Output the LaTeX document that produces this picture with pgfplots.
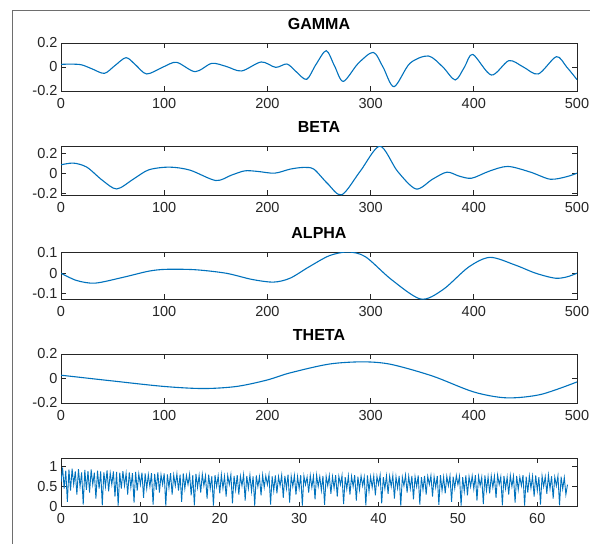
\documentclass[border=0pt]{standalone}
\usepackage{pgfplots}
\pgfplotsset{compat=1.18}
\usepackage{fontspec}
\setmainfont{Liberation Sans}
\definecolor{mblue}{RGB}{0,114,189}
\definecolor{axgray}{RGB}{38,38,38}
\definecolor{framegray}{RGB}{110,110,110}
\pgfplotsset{
  mystyle/.style={
    scale only axis, width=516pt,
    axis line style={draw=axgray, line width=0.8pt},
    tick style={draw=axgray, line width=0.8pt},
    tick align=inside, major tick length=5pt,
    ticklabel style={font=\fontsize{14.5}{14.5}\selectfont, text=axgray},
    xticklabel style={yshift=-3.5pt},
    title style={at={(0.5,1)}, anchor=base, yshift=8pt, font=\bfseries\fontsize{16}{16}\selectfont, text=black},
    xmin=0, xmax=500, xtick={0,100,200,300,400,500},
    xticklabels={0,100,200,300,400,500},
    every axis plot/.append style={line width=1.1pt, color=mblue},
  }
}
\begin{document}
\begin{tikzpicture}
\useasboundingbox (0,0) rectangle (590pt,-544pt);
\fill[white] (0,0) rectangle (590pt,-544pt);
\draw[framegray, line width=1.6pt] (12.5pt,-560pt) -- (12.5pt,-10.5pt) -- (600pt,-10.5pt);

% GAMMA
\begin{axis}[mystyle, at={(61pt,-43pt)}, anchor=north west, height=48pt,
  title={GAMMA}, ymin=-0.2, ymax=0.2, ytick={-0.2,0,0.2}, yticklabels={-0.2,0,0.2}]
\addplot[smooth] coordinates {(0,0.022)(10,0.024)(20,0.018)(30,-0.015)(42,-0.053)(52,0.01)(63,0.078)(72,0.02)(83,-0.058)(99,0.0)(112,0.039)(130,-0.039)(146,0.03)(160,0.005)(175,-0.033)(194,0.042)(208,-0.003)(219,0.025)(228,-0.04)(238,-0.103)(247,0.02)(257,0.136)(265,0.01)(273.5,-0.12)(288,0.03)(302.6,0.122)(312,0.0)(322.7,-0.164)(338,0.03)(356,0.092)(370,0.0)(382,-0.108)(391,0.0)(399,0.105)(417,-0.067)(434,0.053)(448,0.0)(462.5,-0.058)(480,0.086)(490,0.0)(500,-0.105)};
\end{axis}

% BETA
\begin{axis}[mystyle, at={(61pt,-146pt)}, anchor=north west, height=49pt,
  title={BETA}, ymin=-0.217, ymax=0.27, ytick={-0.2,0,0.2}, yticklabels={-0.2,0,0.2}]
\addplot[smooth] coordinates {(0,0.083)(12,0.1)(25,0.06)(40,-0.07)(54,-0.157)(70,-0.06)(85,0.033)(105,0.06)(125,0.03)(150,-0.073)(165,-0.02)(178,0.023)(190,0.018)(207,0.0)(222,0.04)(235,0.057)(245,0.04)(258,-0.1)(272,-0.215)(290,0.02)(309,0.268)(326,0.02)(344,-0.157)(360,-0.06)(374,0.01)(386,-0.03)(398,-0.05)(415,0.02)(433,0.067)(455,0.01)(474,-0.06)(490,-0.035)(500,0.0)};
\end{axis}

% ALPHA
\begin{axis}[mystyle, at={(61pt,-252pt)}, anchor=north west, height=47pt,
  title={ALPHA}, ymin=-0.125, ymax=0.103, ytick={-0.1,0,0.1}, yticklabels={-0.1,0,0.1}]
\addplot[smooth] coordinates {(0,0)(15,-0.035)(33,-0.048)(60,-0.02)(85,0.01)(102,0.019)(130,0.017)(160,0.0)(185,-0.03)(206,-0.043)(222,-0.024)(240,0.03)(260,0.085)(278,0.103)(295,0.08)(320,-0.03)(348.5,-0.125)(370,-0.08)(395,0.03)(415.7,0.077)(440,0.04)(460,0.0)(478.7,-0.024)(490,-0.018)(500,0.0)};
\end{axis}

% THETA
\begin{axis}[mystyle, at={(61pt,-354pt)}, anchor=north west, height=49pt,
  title={THETA}, ymin=-0.2, ymax=0.2, ytick={-0.2,0,0.2}, yticklabels={-0.2,0,0.2}]
\addplot[smooth] coordinates {(0,0.027)(50,-0.02)(100,-0.065)(138,-0.082)(170,-0.065)(199,-0.014)(222,0.046)(260,0.118)(293,0.136)(320,0.115)(360,0.02)(400,-0.11)(432,-0.158)(465,-0.13)(500,-0.028)};
\end{axis}

% signal
\begin{axis}[mystyle, at={(61pt,-458pt)}, anchor=north west, height=48.5pt,
  xmin=0, xmax=65, xtick={0,10,20,30,40,50,60}, xticklabels={0,10,20,30,40,50,60},
  ymin=0, ymax=1.22, ytick={0,0.5,1}, yticklabels={0,0.5,1}]
\addplot[line width=0.9pt] coordinates {
(0,0.62)(0.2,0.98)(0.4,0.45)(0.6,0.90)(0.8,0.12)
(1,0.93)(1.2,0.40)(1.4,0.95)(1.6,0.55)(1.8,0.88)
(2,0.30)(2.2,0.94)(2.4,0.50)(2.6,0.86)(2.8,0.05)
(3,0.92)(3.2,0.42)(3.4,0.89)(3.6,0.35)(3.8,0.93)
(4,0.55)(4.2,0.85)(4.4,0.20)(4.6,0.90)(4.8,0.45)
(5,0.88)(5.2,0.03)(5.4,0.86)(5.6,0.50)(5.8,0.91)
(6,0.38)(6.2,0.84)(6.4,0.55)(6.6,0.88)(6.8,0.25)
(7,0.87)(7.2,0.02)(7.4,0.85)(7.6,0.45)(7.8,0.89)
(8,0.52)(8.2,0.83)(8.4,0.30)(8.6,0.86)(8.8,0.48)
(9,0.84)(9.2,0.10)(9.4,0.87)(9.6,0.40)(9.8,0.82)
(10,0.55)(10.2,0.85)(10.4,0.22)(10.6,0.83)(10.8,0.45)
(11,0.80)(11.2,0.50)(11.4,0.84)(11.6,0.05)(11.8,0.82)
(12,0.42)(12.2,0.86)(12.4,0.35)(12.6,0.80)(12.8,0.55)
(13,0.83)(13.2,0.02)(13.4,0.81)(13.6,0.47)(13.8,0.84)
(14,0.30)(14.2,0.79)(14.4,0.52)(14.6,0.82)(14.8,0.40)
(15,0.80)(15.2,0.12)(15.4,0.83)(15.6,0.45)(15.8,0.78)
(16,0.55)(16.2,0.81)(16.4,0.28)(16.6,0.79)(16.8,0.03)
(17,0.82)(17.2,0.48)(17.4,0.78)(17.6,0.35)(17.8,0.81)
(18,0.52)(18.2,0.77)(18.4,0.20)(18.6,0.80)(18.8,0.45)
(19,0.76)(19.2,0.02)(19.4,0.79)(19.6,0.50)(19.8,0.77)
(20,0.33)(20.2,0.80)(20.4,0.46)(20.6,0.76)(20.8,0.25)
(21,0.78)(21.2,0.55)(21.4,0.80)(21.6,0.08)(21.8,0.77)
(22,0.42)(22.2,0.79)(22.4,0.30)(22.6,0.76)(22.8,0.52)
(23,0.80)(23.2,0.15)(23.4,0.77)(23.6,0.45)(23.8,0.79)
(24,0.38)(24.2,0.76)(24.4,0.02)(24.6,0.78)(24.8,0.50)
(25,0.75)(25.2,0.28)(25.4,0.79)(25.6,0.48)(25.8,0.77)
(26,0.55)(26.2,0.80)(26.4,0.05)(26.6,0.76)(26.8,0.40)
(27,0.78)(27.2,0.33)(27.4,0.75)(27.6,0.52)(27.8,0.79)
(28,0.22)(28.2,0.77)(28.4,0.45)(28.6,0.80)(28.8,0.10)
(29,0.76)(29.2,0.50)(29.4,0.78)(29.6,0.30)(29.8,0.75)
(30,0.45)(30.2,0.79)(30.4,0.02)(30.6,0.77)(30.8,0.55)
(31,0.74)(31.2,0.35)(31.4,0.78)(31.6,0.48)(31.8,0.76)
(32,0.18)(32.2,0.79)(32.4,0.50)(32.6,0.75)(32.8,0.40)
(33,0.77)(33.2,0.04)(33.4,0.76)(33.6,0.52)(33.8,0.78)
(34,0.32)(34.2,0.75)(34.4,0.46)(34.6,0.79)(34.8,0.25)
(35,0.76)(35.2,0.55)(35.4,0.78)(35.6,0.06)(35.8,0.74)
(36,0.44)(36.2,0.77)(36.4,0.30)(36.6,0.76)(36.8,0.50)
(37,0.79)(37.2,0.15)(37.4,0.75)(37.6,0.42)(37.8,0.77)
(38,0.52)(38.2,0.74)(38.4,0.03)(38.6,0.78)(38.8,0.38)
(39,0.75)(39.2,0.48)(39.4,0.77)(39.6,0.28)(39.8,0.76)
(40,0.55)(40.2,0.79)(40.4,0.08)(40.6,0.74)(40.8,0.45)
(41,0.77)(41.2,0.32)(41.4,0.76)(41.6,0.50)(41.8,0.78)
(42,0.20)(42.2,0.75)(42.4,0.46)(42.6,0.77)(42.8,0.02)
(43,0.74)(43.2,0.52)(43.4,0.79)(43.6,0.35)(43.8,0.76)
(44,0.45)(44.2,0.77)(44.4,0.18)(44.6,0.75)(44.8,0.50)
(45,0.78)(45.2,0.05)(45.4,0.74)(45.6,0.42)(45.8,0.77)
(46,0.30)(46.2,0.76)(46.4,0.55)(46.6,0.78)(46.8,0.25)
(47,0.75)(47.2,0.48)(47.4,0.77)(47.6,0.04)(47.8,0.79)
(48,0.40)(48.2,0.74)(48.4,0.33)(48.6,0.76)(48.8,0.52)
(49,0.77)(49.2,0.12)(49.4,0.75)(49.6,0.46)(49.8,0.78)
(50,0.55)(50.2,0.76)(50.4,0.02)(50.6,0.74)(50.8,0.38)
(51,0.78)(51.2,0.28)(51.4,0.75)(51.6,0.50)(51.8,0.77)
(52,0.44)(52.2,0.79)(52.4,0.15)(52.6,0.76)(52.8,0.52)
(53,0.74)(53.2,0.06)(53.4,0.78)(53.6,0.40)(53.8,0.75)
(54,0.33)(54.2,0.77)(54.4,0.48)(54.6,0.76)(54.8,0.22)
(55,0.79)(55.2,0.55)(55.4,0.75)(55.6,0.03)(55.8,0.77)
(56,0.45)(56.2,0.74)(56.4,0.30)(56.6,0.78)(56.8,0.50)
(57,0.76)(57.2,0.10)(57.4,0.77)(57.6,0.42)(57.8,0.74)
(58,0.52)(58.2,0.79)(58.4,0.02)(58.6,0.75)(58.8,0.35)
(59,0.77)(59.2,0.46)(59.4,0.76)(59.6,0.25)(59.8,0.78)
(60,0.40)(60.2,0.74)(60.4,0.05)(60.6,0.77)(60.8,0.50)
(61,0.75)(61.2,0.32)(61.4,0.79)(61.6,0.45)(61.8,0.76)
(62,0.20)(62.2,0.74)(62.4,0.52)(62.6,0.77)(62.8,0.03)
(63,0.75)(63.2,0.44)(63.4,0.73)(63.6,0.30)(63.8,0.55)
};
\end{axis}
\end{tikzpicture}
\end{document}
